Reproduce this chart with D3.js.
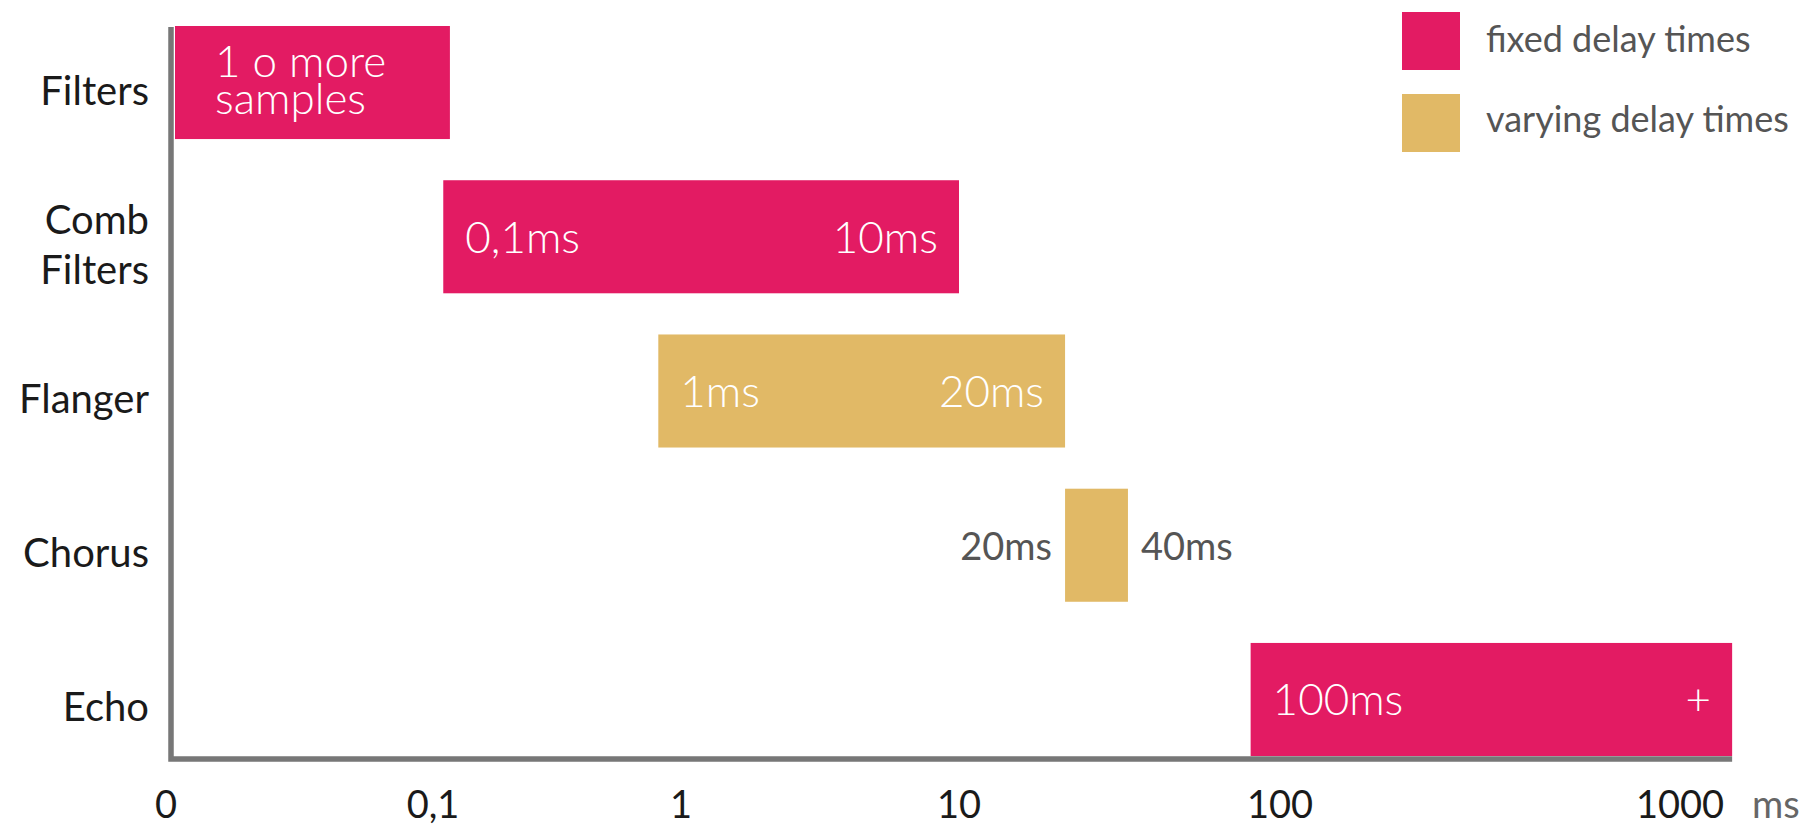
<!DOCTYPE html>
<html>
<head>
<meta charset="utf-8">
<script src="https://cdn.jsdelivr.net/npm/d3@7"></script>
<style>
    body { margin: 0; background: #fff; }
    .chart text { font-family: Lato, "Open Sans", sans-serif; }
</style>
</head>
<body>
<div class="chart"></div>
<script>
// effects (rows, top to bottom)
var categories = ["Filters", "Comb Filters", "Flanger", "Chorus", "Echo"];
// start / end of each bar in ms
var startValues = [0, 0.11, 0.81, 21.4, 81];
var endValues = [0.117, 10, 21.4, 33.6, 1350];
var delayTypes = ["fixed", "fixed", "varying", "varying", "fixed"];
// texts inside (or beside) the bars
var startLabels = ["1 o more\nsamples", "0,1ms", "1ms", "20ms", "100ms"];
var endLabels = ["", "10ms", "20ms", "40ms", "+"];
var labelOutside = [false, false, false, true, false];

// x axis
var tickValues = [0, 0.1, 1, 10, 100, 1000];
var tickLabels = ["0", "0,1", "1", "10", "100", "1000"];
var axisUnit = "ms";

// legend
var legendKeys = ["fixed", "varying"];
var legendLabels = ["fixed delay times", "varying delay times"];

class DelayChart {
    constructor(selector) {
        this.width = 1806;
        this.height = 826;

        this.svg = d3.select(selector)
            .append("svg")
            .attr("width", this.width)
            .attr("height", this.height);

        this.color = d3.scaleOrdinal()
            .domain(legendKeys)
            .range(["#e31b63", "#e1b966"]);

        // the axis is not a true log one: every decade has its own width,
        // so a polylinear scale on log10 does the job (0 sits one decade below 0,1)
        this.decade = d3.scaleLinear()
            .domain([-2, -1, 0, 1, 2, 3])
            .range([171, 433, 681, 959, 1280, 1680]);

        this.y = d3.scaleBand()
            .domain(categories)
            .range([26, 756])
            .paddingInner(0.267)
            .paddingOuter(0);

        this.draw();
    }

    x(v) {
        return v <= 0 ? this.decade(-2) : this.decade(Math.log10(v));
    }

    draw() {
        var ref = this;
        var rows = categories.map(function (c, i) {
            return { name: c, start: startValues[i], end: endValues[i], type: delayTypes[i],
                     l: startLabels[i], r: endLabels[i], outside: labelOutside[i] };
        });
        var x0 = this.x(0);
        var xEnd = this.x(d3.max(endValues));
        var bw = this.y.bandwidth();
        // bars start just right of the y axis line
        var barStart = function (d) { return Math.max(ref.x(d.start), x0 + 4); };

        // bars
        this.svg.append("g").selectAll("rect")
            .data(rows)
            .enter()
            .append("rect")
            .attr("x", barStart)
            .attr("y", function (d) { return ref.y(d.name); })
            .attr("width", function (d) { return ref.x(d.end) - barStart(d); })
            .attr("height", bw)
            .style("fill", function (d) { return ref.color(d.type); });

        // axis lines (L shape)
        this.svg.append("path")
            .attr("d", "M" + x0 + "," + 27 + "V" + 759 + "H" + xEnd)
            .style("fill", "none")
            .style("stroke", "#777")
            .style("stroke-width", 5.5)
            .style("stroke-linejoin", "miter");

        // labels on the bars
        var labels = this.svg.append("g");
        rows.forEach(function (d) {
            var cy = ref.y(d.name) + bw / 2;
            var xs = barStart(d);
            var xe = ref.x(d.end);
            if (d.outside) {
                labels.append("text")
                    .attr("x", xs - 13).attr("y", cy + 15)
                    .attr("text-anchor", "end")
                    .style("font-size", "38px").style("fill", "#555")
                    .text(d.l);
                labels.append("text")
                    .attr("x", xe + 13).attr("y", cy + 15)
                    .style("font-size", "38px").style("fill", "#555")
                    .text(d.r);
                return;
            }
            var lines = d.l.split("\n");
            var pad = lines.length > 1 ? 40 : 22;
            var lh = 37;
            var t = labels.append("text")
                .attr("x", xs + pad)
                .attr("y", cy + 16 - (lines.length - 1) * lh / 2 - (lines.length > 1 ? 3 : 0))
                .style("font-size", "44px").style("font-weight", 300).style("fill", "#fff");
            lines.forEach(function (s, j) {
                t.append("tspan").attr("x", xs + pad).attr("dy", j == 0 ? 0 : lh).text(s);
            });
            if (d.r) {
                labels.append("text")
                    .attr("x", xe - 21).attr("y", cy + 16)
                    .attr("text-anchor", "end")
                    .style("font-size", "44px").style("font-weight", 300).style("fill", "#fff")
                    .text(d.r);
            }
        });

        // category names
        var yl = this.svg.append("g");
        categories.forEach(function (c) {
            var parts = c.split(" ");
            var cy = ref.y(c) + bw / 2;
            var t = yl.append("text")
                .attr("text-anchor", "end")
                .style("font-size", "40px").style("fill", "#1a1a1a");
            parts.forEach(function (p, j) {
                t.append("tspan")
                    .attr("x", 149)
                    .attr("y", cy + 22 + (j - (parts.length - 1) / 2) * 50)
                    .text(p);
            });
        });

        // x axis: labels only, the line is drawn above
        var xAxis = d3.axisBottom(d3.scaleLinear())
            .tickValues(tickValues)
            .tickFormat(function (d, i) { return tickLabels[i]; })
            .tickSize(0);
        var gx = this.svg.append("g")
            .attr("transform", "translate(0,790)")
            .call(xAxis);
        gx.select(".domain").remove();
        // move ticks onto our own decade scale ("0" sits a bit left of the axis line)
        gx.selectAll(".tick")
            .attr("transform", function (d) { return "translate(" + (d == 0 ? x0 - 5 : ref.x(d)) + ",0)"; });
        gx.selectAll(".tick text")
            .attr("y", 0).attr("dy", "0.73em")
            .style("font-family", "Lato, 'Open Sans', sans-serif")
            .style("font-size", "38px").style("fill", "#1a1a1a");

        this.svg.append("text")
            .attr("x", 1752).attr("y", 818)
            .style("font-size", "38px").style("fill", "#666")
            .text(axisUnit);

        // legend
        var lg = this.svg.append("g").selectAll("g")
            .data(legendKeys)
            .enter()
            .append("g")
            .attr("transform", function (d, i) { return "translate(1402," + (12 + i * 82) + ")"; });
        lg.append("rect")
            .attr("width", 58).attr("height", 58)
            .style("fill", function (d) { return ref.color(d); });
        lg.append("text")
            .attr("x", 84).attr("y", function (d, i) { return 40 + (i == 0 ? 0 : -2); })
            .style("font-size", "36px").style("fill", "#555")
            .text(function (d, i) { return legendLabels[i]; });
    }
}

var chart = new DelayChart(".chart");
</script>
</body>
</html>
